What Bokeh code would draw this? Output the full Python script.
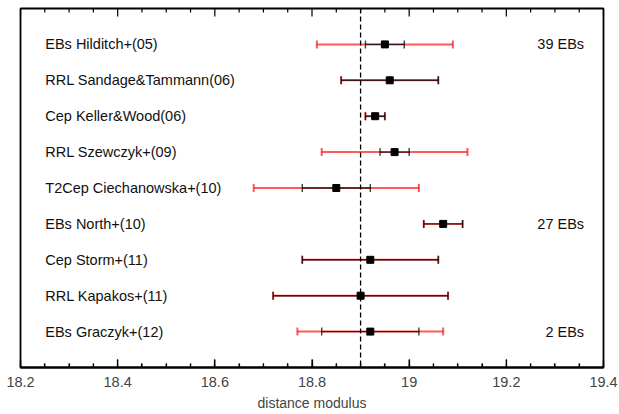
from bokeh.plotting import figure
from bokeh.models import (ColumnDataSource, Whisker, TeeHead, Span,
                          FixedTicker, CustomJSTickFormatter, Range1d)
from bokeh.core.properties import value
from bokeh.embed import file_html
from bokeh.resources import INLINE

# ---- data ----
labels = ["EBs Hilditch+(05)", "RRL Sandage&Tammann(06)", "Cep Keller&Wood(06)",
          "RRL Szewczyk+(09)", "T2Cep Ciechanowska+(10)", "EBs North+(10)",
          "Cep Storm+(11)", "RRL Kapakos+(11)", "EBs Graczyk+(12)"]
mu = [18.95, 18.96, 18.93, 18.97, 18.85, 19.07, 18.92, 18.90, 18.92]
stat_err = [0.04, 0.10, 0.02, 0.03, 0.07, 0.04, 0.14, 0.18, 0.10]
tot_err = [0.14, 0.10, 0.02, 0.15, 0.17, 0.04, 0.14, 0.18, 0.15]
n_ebs = ["39 EBs", "", "", "", "", "27 EBs", "", "", "2 EBs"]
ref_mu = 18.9
major_ticks = [18.2, 18.4, 18.6, 18.8, 19.0, 19.2, 19.4]
minor_ticks = [round(18.2 + 0.05 * i, 2) for i in range(25)]

X0, X1 = 18.2, 19.4
Y_TOP, Y_BOT = 0.0, 10.0
FRAME_W, FRAME_H = 583, 359

rows = list(range(1, len(labels) + 1))
src = ColumnDataSource(dict(
    y=rows, mu=mu, labels=labels, n_ebs=n_ebs,
    s_lo=[m - e for m, e in zip(mu, stat_err)], s_hi=[m + e for m, e in zip(mu, stat_err)],
    t_lo=[m - e for m, e in zip(mu, tot_err)], t_hi=[m + e for m, e in zip(mu, tot_err)],
    lx=[18.251] * len(rows), rx=[19.36] * len(rows),
))

FONT = "Liberation Sans"

p = figure(frame_width=FRAME_W, frame_height=FRAME_H, output_backend="svg", toolbar_location=None,
           x_range=Range1d(X0, X1), y_range=Range1d(Y_BOT, Y_TOP),
           y_axis_location=None, min_border_left=20, min_border_right=15,
           min_border_top=8, min_border_bottom=0)
p.xgrid.visible = False
p.ygrid.visible = False
p.outline_line_color = "black"
p.outline_line_width = 1.8

ticker = FixedTicker(ticks=major_ticks, minor_ticks=minor_ticks)
fmt = CustomJSTickFormatter(code="return (Math.round(tick*10)/10).toString();")

ax = p.xaxis[0]
ax.ticker = ticker
ax.formatter = fmt
ax.axis_label = "distance modulus"
ax.axis_label_text_font = FONT
ax.axis_label_text_font_size = "14px"
ax.axis_label_text_font_style = "normal"
ax.axis_label_standoff = 5
ax.major_label_text_font = FONT
ax.major_label_text_font_size = "14.5px"
ax.major_label_standoff = 9
ax.major_tick_in = 8
ax.major_tick_out = 0
ax.minor_tick_in = 4
ax.minor_tick_out = 0
ax.major_tick_line_width = 1.2
ax.minor_tick_line_width = 1.2
ax.axis_line_color = "black"
ax.axis_line_width = 1.8

# inward ticks on bottom and top edges, drawn as head-less whiskers
per_px = (Y_BOT - Y_TOP) / FRAME_H
minor_only = [t for t in minor_ticks if all(abs(t - m) > 1e-6 for m in major_ticks)]
for ticks, px in ((major_ticks, 8), (minor_only, 4)):
    ln = px * per_px
    tsrc = ColumnDataSource(dict(
        x=ticks + ticks,
        lo=[Y_BOT] * len(ticks) + [Y_TOP] * len(ticks),
        hi=[Y_BOT - ln] * len(ticks) + [Y_TOP + ln] * len(ticks),
    ))
    p.add_layout(Whisker(source=tsrc, base="x", lower="lo", upper="hi", dimension="height",
                         line_color="black", line_width=1.2,
                         lower_head=None, upper_head=None))

p.add_layout(Span(location=ref_mu, dimension="height", line_color="black",
                  line_dash="5 3", line_width=1.3))

# total error (red)
p.add_layout(Whisker(source=src, base="y", lower="t_lo", upper="t_hi", dimension="width",
                     line_color="#ff0000", line_alpha=0.65, line_width=2,
                     lower_head=TeeHead(size=8, line_color="#ff0000", line_alpha=0.65, line_width=2),
                     upper_head=TeeHead(size=8, line_color="#ff0000", line_alpha=0.65, line_width=2)))
# statistical error (black)
p.add_layout(Whisker(source=src, base="y", lower="s_lo", upper="s_hi", dimension="width",
                     line_color="black", line_alpha=0.75, line_width=1.4,
                     lower_head=TeeHead(size=8, line_color="black", line_alpha=0.75, line_width=1.4),
                     upper_head=TeeHead(size=8, line_color="black", line_alpha=0.75, line_width=1.4)))

p.scatter(x="mu", y="y", source=src, marker="square", size=7, fill_color="black",
          line_color="black")

p.text(x="lx", y="y", text="labels", source=src, text_font=value(FONT),
       text_font_size="14.5px", text_baseline="middle", text_align="left", text_color="#111111")
p.text(x="rx", y="y", text="n_ebs", source=src, text_font=value(FONT),
       text_font_size="14.5px", text_baseline="middle", text_align="right", text_color="#111111")

open("out.html", "w").write(file_html(p, INLINE))
